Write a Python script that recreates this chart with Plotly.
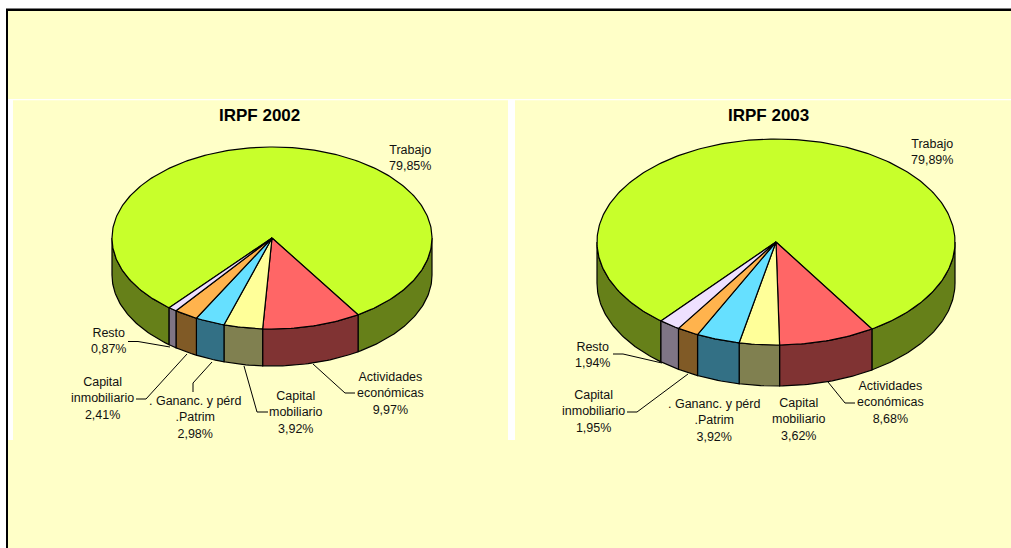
import math
import plotly.graph_objects as go

# ---------- data ----------
categories = ["Trabajo", "Actividades<br>económicas", "Capital<br>mobiliario",
              ". Gananc. y pérd<br>.Patrim", "Capital<br>inmobiliario", "Resto"]
values_2002 = [79.85, 9.97, 3.92, 2.98, 2.41, 0.87]
values_2003 = [79.89, 8.68, 3.62, 3.92, 1.95, 1.94]
titles = ["IRPF 2002", "IRPF 2003"]

# ---------- style ----------
top_colors = ["#C8FF2B", "#FF6666", "#FFFF99", "#66E0FF", "#FFB34D", "#EEE0FF"]
side_colors = ["#668019", "#803333", "#808050", "#337085", "#805A26", "#7F7585"]
PANEL = "#FFFFC8"
START_ANGLE = 220.0
FONT = "Liberation Sans, Arial, sans-serif"
LINE_W = 1.2

# layout of each pie: centre, radii, depth, title, label centres, leader lines
pies = [
    dict(cx=272, cy=238, rx=160, ry=91, depth=37, title_xy=(259, 115),
         label_xy=[(410, 158), (390, 393), (295.5, 412), (195, 417), (102, 398), (108, 340.5)],
         leaders=[None,
                  [(355, 393), (345, 393), (313, 364)],
                  [(268, 412), (257, 412), (244, 366)],
                  [(193, 392), (193, 383), (212, 362)],
                  [(136, 399), (146, 399), (187, 354)],
                  [(128, 341.5), (138, 341.5), (170, 347)]]),
    dict(cx=776, cy=242, rx=179, ry=103, depth=41, title_xy=(768, 115),
         label_xy=[(932, 151.5), (890, 402), (798.5, 419), (713.5, 420), (593, 411), (592, 355)],
         leaders=[None,
                  [(855, 403), (845, 403), (828, 382)],
                  None,
                  None,
                  [(627, 412), (637, 412), (688, 374)],
                  [(613, 354), (623, 354), (662, 363)]]),
]


def pt(p, deg, dz=0.0):
    a = math.radians(deg)
    return p["cx"] + p["rx"] * math.sin(a), p["cy"] - p["ry"] * math.cos(a) + dz


def arc(p, a0, a1, dz=0.0):
    n = max(2, int(abs(a1 - a0) / 1.0) + 1)
    return [pt(p, a0 + (a1 - a0) * i / (n - 1), dz) for i in range(n)]


fig = go.Figure()


def poly(points, fill, width=LINE_W):
    fig.add_trace(go.Scatter(
        x=[q[0] for q in points], y=[q[1] for q in points], mode="lines",
        fill="toself", fillcolor=fill, line=dict(color="#000000", width=width),
        hoverinfo="skip", showlegend=False))


def draw_pie(p, values):
    total = sum(values)
    spans, a = [], START_ANGLE
    for v in values:
        spans.append((a, a + v / total * 360.0))
        a += v / total * 360.0
    # sides (front half only: 90..270 degrees clockwise from the top)
    for (a0, a1), col in zip(spans, side_colors):
        for k in (-360, 0, 360):
            lo, hi = max(a0 + k, 90), min(a1 + k, 270)
            if hi > lo:
                poly(arc(p, lo, hi) + arc(p, hi, lo, p["depth"]) + [pt(p, lo)], col)
    # top faces
    for (a0, a1), col in zip(spans, top_colors):
        poly([(p["cx"], p["cy"])] + arc(p, a0, a1) + [(p["cx"], p["cy"])], col)
    # leader lines
    for seg in p["leaders"]:
        if seg:
            fig.add_trace(go.Scatter(
                x=[q[0] for q in seg], y=[q[1] for q in seg], mode="lines",
                line=dict(color="#000000", width=1), hoverinfo="skip", showlegend=False))


for pie, vals in zip(pies, [values_2002, values_2003]):
    draw_pie(pie, vals)

annotations = []
for pie, vals, title in zip(pies, [values_2002, values_2003], titles):
    annotations.append(dict(x=pie["title_xy"][0], y=pie["title_xy"][1], text=f"<b>{title}</b>",
                            showarrow=False, font=dict(family=FONT, size=17, color="#000000")))
    for cat, v, xy in zip(categories, vals, pie["label_xy"]):
        pct = f"{v:.2f}".replace(".", ",")
        annotations.append(dict(x=xy[0], y=xy[1], showarrow=False, align="center",
                                text=f"{cat}<br>{pct}%",
                                font=dict(family=FONT, size=12.5, color="#111111")))

def rect(x0, y0, x1, y1, col):
    return dict(type="rect", xref="x", yref="y", x0=x0, y0=y0, x1=x1, y1=y1,
                layer="below", fillcolor=col, line=dict(width=0))

shapes = [
    rect(6, 8.4, 1011, 548, "#000000"),
    rect(8, 11, 1011, 548, PANEL),
    rect(8, 99, 1011, 100.3, "#FFFFFF"),
    rect(8, 99, 13, 440, "#FFFFFF"),
    rect(508, 99, 515, 440, "#FFFFFF"),
]

fig.update_layout(
    width=1011, height=548, margin=dict(l=0, r=0, t=0, b=0),
    paper_bgcolor="#FFFFFF", plot_bgcolor="rgba(0,0,0,0)",
    xaxis=dict(range=[0, 1011], visible=False, fixedrange=True),
    yaxis=dict(range=[548, 0], visible=False, fixedrange=True),
    shapes=shapes, annotations=annotations, showlegend=False,
)
fig.write_html("out.html", config=dict(displayModeBar=False),
               post_script="document.body.style.margin='0';document.body.style.overflow='hidden';")
